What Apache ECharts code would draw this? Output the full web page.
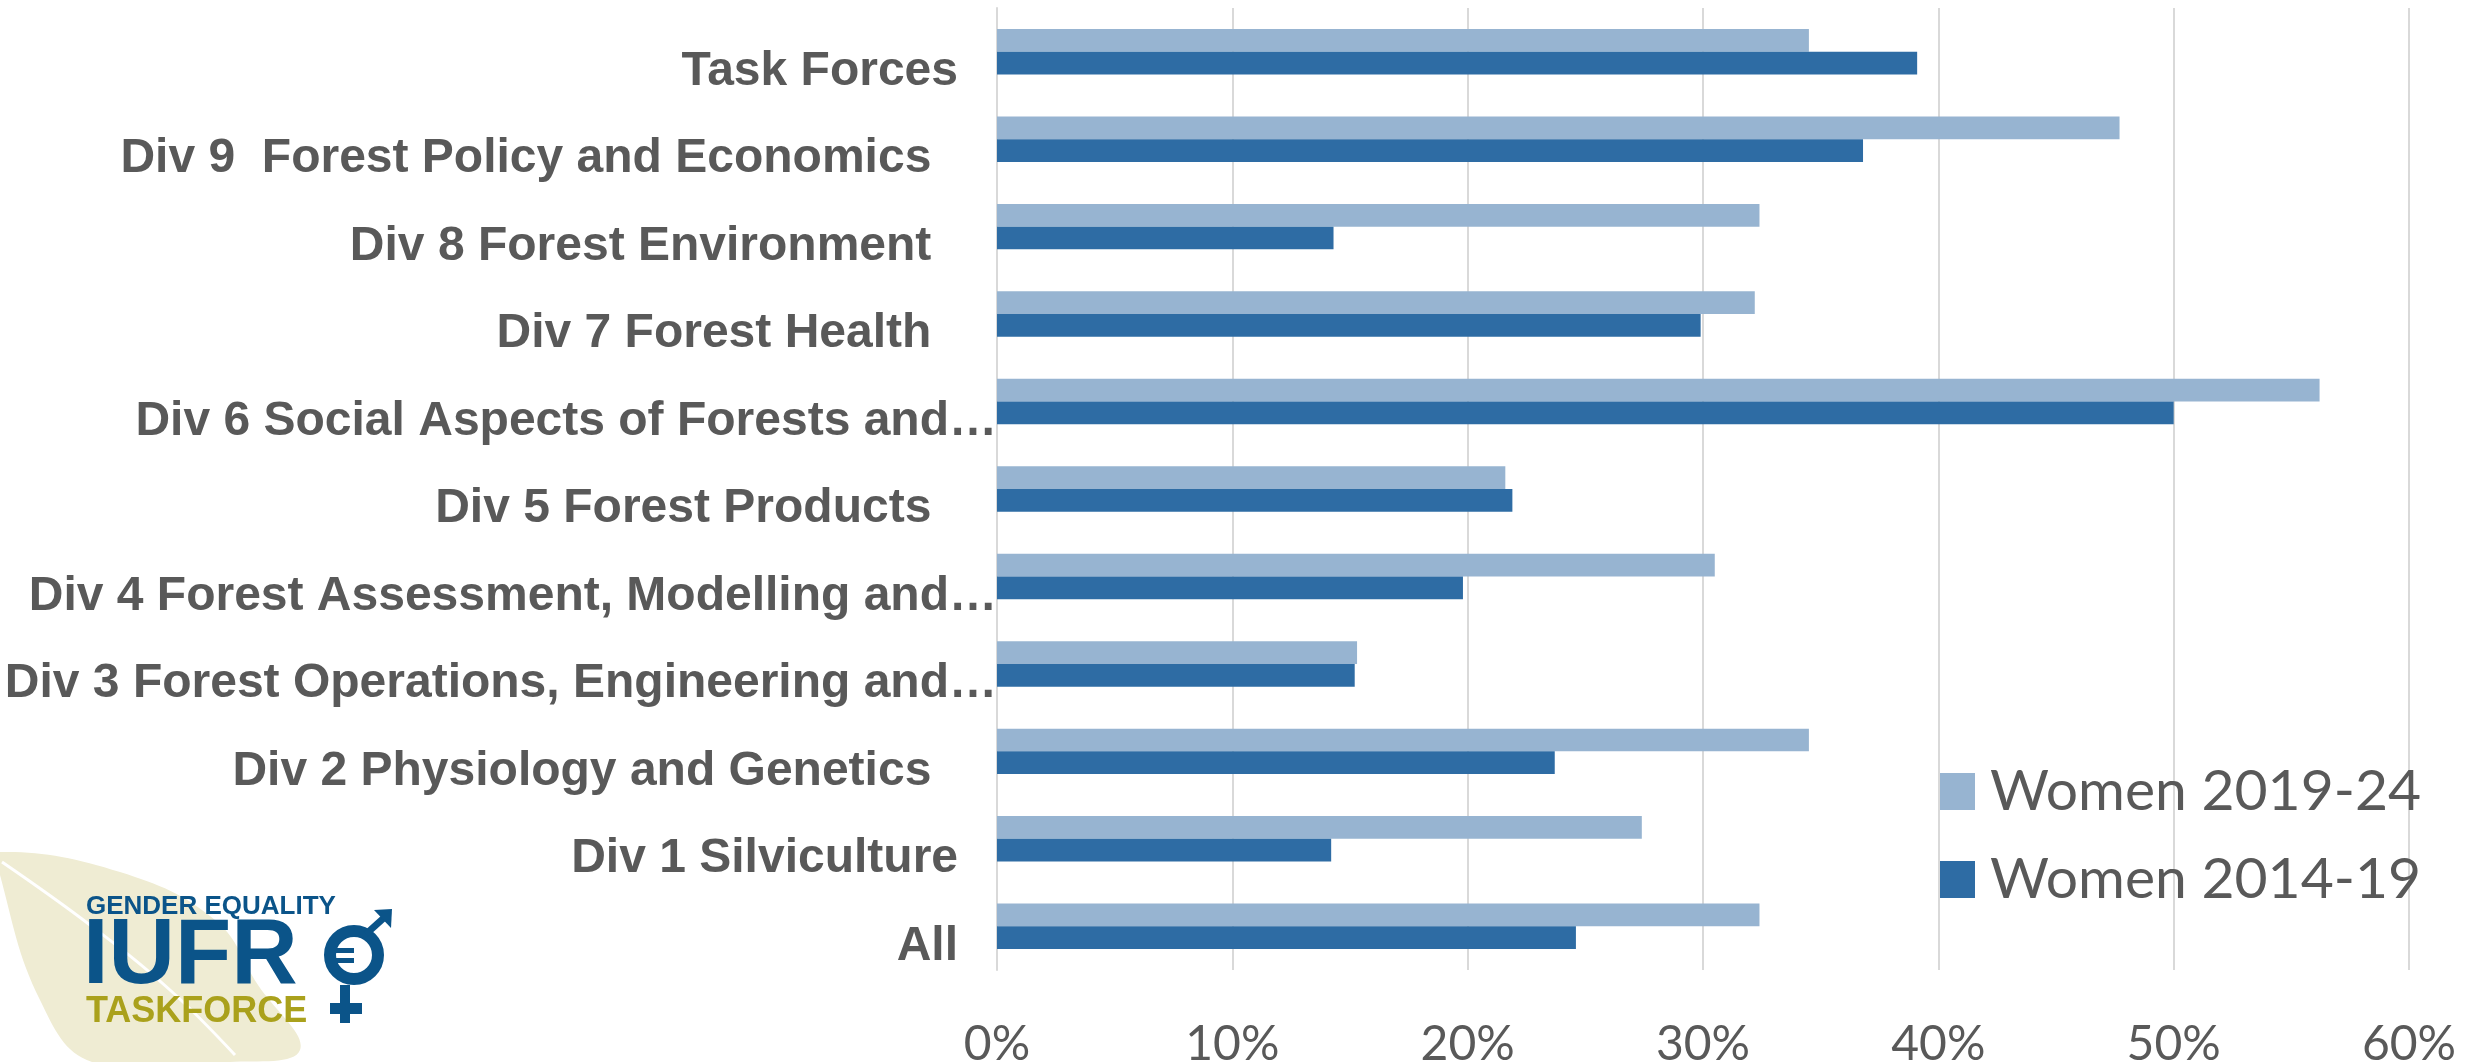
<!DOCTYPE html>
<html><head><meta charset="utf-8">
<style>html,body{margin:0;padding:0;background:#fff}#c{width:2471px;height:1062px}</style>
<script src="https://cdn.jsdelivr.net/npm/echarts@6/dist/echarts.min.js"></script>
</head><body><div id="c"></div>
<script>
// ---- data ----
const categories = [
  'All',
  'Div 1 Silviculture',
  'Div 2 Physiology and Genetics  ',
  'Div 3 Forest Operations, Engineering and…',
  'Div 4 Forest Assessment, Modelling and…',
  'Div 5 Forest Products  ',
  'Div 6 Social Aspects of Forests and…',
  'Div 7 Forest Health  ',
  'Div 8 Forest Environment  ',
  'Div 9  Forest Policy and Economics  ',
  'Task Forces'
];
const seriesNames = ['Women 2019-24', 'Women 2014-19'];
const women2019_24 = [32.4, 27.4, 34.5, 15.3, 30.5, 21.6, 56.2, 32.2, 32.4, 47.7, 34.5];
const women2014_19 = [24.6, 14.2, 23.7, 15.2, 19.8, 21.9, 50.0, 29.9, 14.3, 36.8, 39.1];
const tickValues = [0, 10, 20, 30, 40, 50, 60];
const tickLabels = ['0%', '10%', '20%', '30%', '40%', '50%', '60%'];

// ---- chart ----
const chart = echarts.init(document.getElementById('c'), null, {renderer: 'canvas'});
const GRAY = '#595959';
const LIGHT = '#97b4d1';
const DARK = '#2e6ca4';
const BLUE = '#0b5489';

const option = {
  backgroundColor: '#ffffff',
  animation: false,
  grid: {left: 997, right: 62, top: 8, bottom: 92, containLabel: false, outerBoundsMode: 'none'},
  legend: {
    orient: 'vertical',
    left: 1935,
    top: 758,
    data: seriesNames,
    itemWidth: 35,
    itemHeight: 37,
    itemGap: 31,
    icon: 'rect',
    textStyle: {fontFamily: 'Lato', fontSize: 57, color: GRAY, lineHeight: 57, padding: [0, 0, 0, 10]}
  },
  xAxis: {
    type: 'value',
    min: tickValues[0],
    max: tickValues[tickValues.length - 1],
    interval: 10,
    axisLine: {show: false},
    axisTick: {show: false},
    splitLine: {show: true, lineStyle: {color: '#d9d9d9', width: 2}},
    axisLabel: {
      fontFamily: 'Lato', fontSize: 48, color: GRAY, margin: 51,
      formatter: v => tickLabels[tickValues.indexOf(v)]
    }
  },
  yAxis: {
    type: 'category',
    data: categories,
    axisLine: {show: true, lineStyle: {color: '#d9d9d9', width: 2}},
    axisTick: {show: false},
    axisLabel: {
      margin: 0,
      interval: 0,
      fontFamily: 'Liberation Sans',
      fontWeight: 'bold',
      fontSize: 48,
      color: GRAY,
      formatter: v => v.endsWith('…') ? '{e|' + v + '}' : '{n|' + v + '}',
      rich: {
        n: {fontFamily: 'Liberation Sans', fontWeight: 'bold', fontSize: 48, color: GRAY, padding: [40, 39, 0, 0]},
        e: {fontFamily: 'Liberation Sans', fontWeight: 'bold', fontSize: 48, color: GRAY, padding: [40, 0, 0, 0]}
      }
    }
  },
  series: [
    {name: seriesNames[0], type: 'bar', data: women2019_24, itemStyle: {color: LIGHT}, barGap: '0%', barCategoryGap: '48%'},
    {name: seriesNames[1], type: 'bar', data: women2014_19, itemStyle: {color: DARK}, barGap: '0%', barCategoryGap: '48%'}
  ],
  graphic: [
    // leaf
    {type: 'polygon', z: 0, shape: {smooth: 0.4, points: [[0, 852], [120, 872], [215, 920], [258, 985], [300, 1050], [230, 1062], [92, 1062], [40, 1000], [0, 875]]},
      style: {fill: '#efecd3'}},
    {type: 'polyline', z: 1, shape: {smooth: 0.4, points: [[2, 862], [90, 925], [170, 990], [235, 1055]]}, style: {fill: null, stroke: '#ffffff', lineWidth: 3}},
    // texts
    {type: 'text', z: 5, left: 86, top: 894, style: {text: 'GENDER EQUALITY', font: 'bold 26px "Liberation Sans"', fill: BLUE}},
    {type: 'text', z: 5, left: 83, top: 912, style: {text: 'IUFR', font: 'bold 92px "Liberation Sans"', fill: BLUE}},
    {type: 'text', z: 5, left: 86, top: 994, style: {text: 'TASKFORCE', font: 'bold 36px "Liberation Sans"', fill: '#aaa11c'}},
    // gender symbol
    {type: 'circle', z: 5, shape: {cx: 354, cy: 955, r: 24}, style: {fill: '#ffffff', stroke: BLUE, lineWidth: 12}},
    {type: 'rect', z: 6, shape: {x: 336, y: 948, width: 18, height: 5}, style: {fill: BLUE}},
    {type: 'rect', z: 6, shape: {x: 336, y: 958, width: 18, height: 5}, style: {fill: BLUE}},
    {type: 'line', z: 5, shape: {x1: 366, y1: 934, x2: 386, y2: 916}, style: {stroke: BLUE, lineWidth: 7}},
    {type: 'polygon', z: 5, shape: {points: [[374, 910], [392, 909], [391, 928]]}, style: {fill: BLUE}},
    {type: 'rect', z: 5, shape: {x: 340, y: 985, width: 10, height: 38}, style: {fill: BLUE}},
    {type: 'rect', z: 5, shape: {x: 330, y: 1003, width: 32, height: 11}, style: {fill: BLUE}}
  ]
};
chart.setOption(option);
</script>
</body></html>
